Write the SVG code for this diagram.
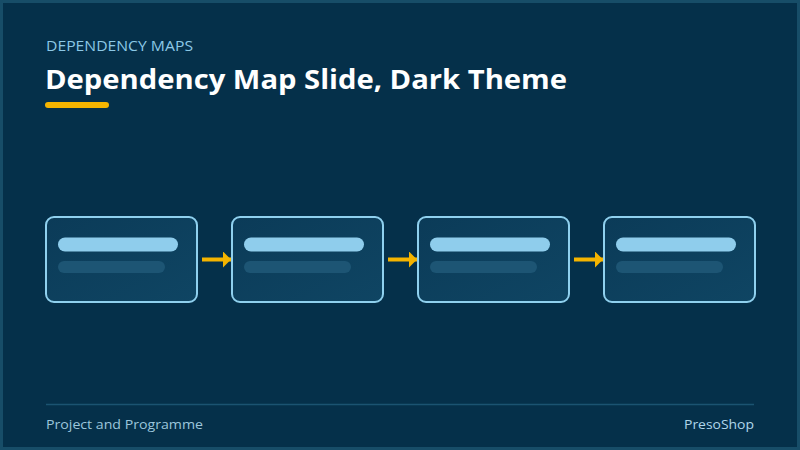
<svg xmlns="http://www.w3.org/2000/svg" width="800" height="450" viewBox="0 0 800 450">
<defs>
<style>
.node rect.box{fill:url(#nodeGrad);stroke:#8fd0ee;stroke-width:2}
.bar1{fill:#8fcdec}
.bar2{fill:#1d5574}
.conn{stroke:#f5b400;stroke-width:4;fill:none}
.kicker{font-family:"Open Sans","Liberation Sans",sans-serif;font-size:14px;fill:#8cc8e6}
.title{font-family:"Open Sans","Liberation Sans",sans-serif;font-weight:700;font-size:26px;fill:#ffffff}
.foot{font-family:"Open Sans","Liberation Sans",sans-serif;font-size:13px;fill:#9cc6dc}
.brand{font-family:"Open Sans","Liberation Sans",sans-serif;font-weight:500;font-size:13px;fill:#b0d6ea}
</style>
<linearGradient id="nodeGrad" x1="0" y1="0" x2="1" y2="1">
<stop offset="0" stop-color="#0b3b58"/>
<stop offset="1" stop-color="#0f4563"/>
</linearGradient>
<marker id="arrow" viewBox="0 0 8 16" refX="8" refY="8" markerWidth="8" markerHeight="16" markerUnits="userSpaceOnUse" orient="auto">
<path d="M0,0 L8,8 L0,16 Z" fill="#f5b400"/>
</marker>
</defs>
<rect x="0" y="0" width="800" height="450" fill="#05304a"/>
<rect x="1.5" y="1.5" width="797" height="447" fill="none" stroke="#174d68" stroke-width="3"/>
<text class="kicker" x="46" y="51" textLength="147" lengthAdjust="spacingAndGlyphs">DEPENDENCY MAPS</text>
<text class="title" x="45" y="89" textLength="522" lengthAdjust="spacingAndGlyphs">Dependency Map Slide, Dark Theme</text>
<rect x="45" y="102" width="64" height="6" rx="3" fill="#f5b400"/>
<g id="connectors">
<line class="conn" x1="202" y1="259.5" x2="231" y2="259.5" marker-end="url(#arrow)"/>
<line class="conn" x1="388" y1="259.5" x2="417" y2="259.5" marker-end="url(#arrow)"/>
<line class="conn" x1="574" y1="259.5" x2="603" y2="259.5" marker-end="url(#arrow)"/>
</g>
<g id="node1" class="node">
<rect class="box" x="46" y="217" width="151" height="85" rx="8"/>
<rect class="bar1" x="58" y="237.5" width="120" height="14" rx="7"/>
<rect class="bar2" x="58" y="261" width="107" height="12" rx="6"/>
</g>
<g id="node2" class="node">
<rect class="box" x="232" y="217" width="151" height="85" rx="8"/>
<rect class="bar1" x="244" y="237.5" width="120" height="14" rx="7"/>
<rect class="bar2" x="244" y="261" width="107" height="12" rx="6"/>
</g>
<g id="node3" class="node">
<rect class="box" x="418" y="217" width="151" height="85" rx="8"/>
<rect class="bar1" x="430" y="237.5" width="120" height="14" rx="7"/>
<rect class="bar2" x="430" y="261" width="107" height="12" rx="6"/>
</g>
<g id="node4" class="node">
<rect class="box" x="604" y="217" width="151" height="85" rx="8"/>
<rect class="bar1" x="616" y="237.5" width="120" height="14" rx="7"/>
<rect class="bar2" x="616" y="261" width="107" height="12" rx="6"/>
</g>
<line x1="46" y1="404.5" x2="754" y2="404.5" stroke="#1b5371" stroke-width="1.5"/>
<text class="foot" x="46" y="429" textLength="157" lengthAdjust="spacingAndGlyphs">Project and Programme</text>
<text class="brand" x="754" y="429" text-anchor="end" textLength="70" lengthAdjust="spacingAndGlyphs">PresoShop</text>
</svg>
